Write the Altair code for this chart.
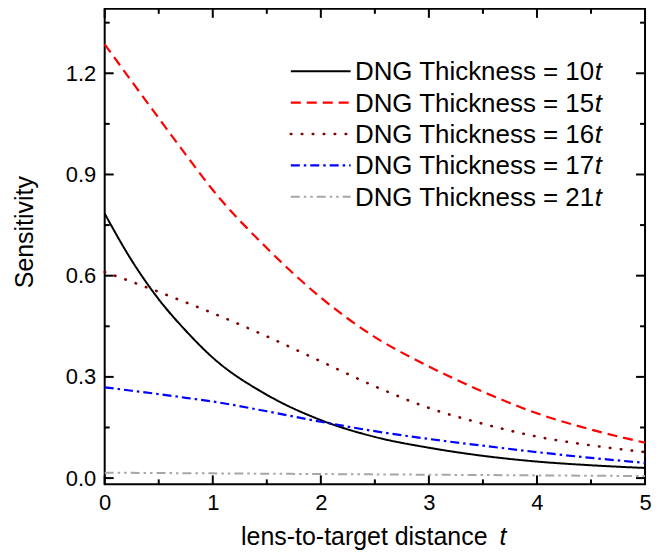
import altair as alt
import pandas as pd

# ---------------- data ----------------
x_vals = [0, 0.25, 0.5, 0.75, 1, 1.5, 2, 2.5, 3, 3.5, 4, 4.5, 5]
s10 = [0.784, 0.645, 0.530, 0.437, 0.357, 0.247, 0.172, 0.122, 0.090, 0.066, 0.049, 0.038, 0.030]
s15 = [1.286, 1.176, 1.067, 0.959, 0.854, 0.682, 0.535, 0.418, 0.331, 0.256, 0.192, 0.144, 0.105]
s16 = [0.611, 0.582, 0.552, 0.521, 0.489, 0.420, 0.346, 0.272, 0.208, 0.161, 0.123, 0.097, 0.077]
s17 = [0.269, 0.259, 0.249, 0.238, 0.227, 0.198, 0.167, 0.139, 0.116, 0.096, 0.077, 0.060, 0.045]
s21 = [0.016, 0.0155, 0.015, 0.0145, 0.014, 0.013, 0.012, 0.011, 0.010, 0.009, 0.008, 0.007, 0.006]

series_ids = ["10t", "15t", "16t", "17t", "21t"]
series_nums = ["10", "15", "16", "17", "21"]
series_vals = [s10, s15, s16, s17, s21]

x_major = [0, 1, 2, 3, 4, 5]
x_minor = [0.5, 1.5, 2.5, 3.5, 4.5]
y_major = [0.0, 0.3, 0.6, 0.9, 1.2]
y_minor = [0.15, 0.45, 0.75, 1.05, 1.35]

# ---------------- styles ----------------
colors = ["#000000", "#ff0000", "#800000", "#0000ff", "#a6a6a6"]
dashes = [[1, 0], [10, 6], [0.5, 10.5], [9, 4, 2.5, 4], [9, 4, 2.5, 4, 2.5, 4]]
caps = ["butt", "butt", "round", "butt", "butt"]
widths = [2, 2.2, 2.6, 2.2, 2]
FONT = "Liberation Sans"
X_DOMAIN = [0, 5]
Y_DOMAIN = [-0.0186, 1.391]
W, H = 542, 477
MAJ, MIN = 9, 5
TICK_COLOR = "#000000"

xs = alt.Scale(domain=X_DOMAIN, nice=False, zero=False)
ys = alt.Scale(domain=Y_DOMAIN, nice=False, zero=False)

ax_x = alt.Axis(values=x_major, format="d", ticks=False, domain=False, grid=False,
                title=None, labelPadding=8, labelFontSize=22, labelFont=FONT,
                labelColor="black", labelFlush=False)
ax_y = alt.Axis(values=y_major, format=".1f", ticks=False, domain=False, grid=False,
                title=None, labelPadding=9, labelFontSize=22, labelFont=FONT,
                labelColor="black", labelFlush=False)

rows = []
for sid, vals in zip(series_ids, series_vals):
    for xv, v in zip(x_vals, vals):
        rows.append({"x": xv, "v": v, "s": sid})
df = pd.DataFrame(rows)

layers = []

# ---------------- inward ticks on all four sides ----------------
ticks_x = pd.DataFrame({"x": x_major + x_minor,
                        "kind": ["major"] * len(x_major) + ["minor"] * len(x_minor)})
ticks_y = pd.DataFrame({"v": y_major + y_minor,
                        "kind": ["major"] * len(y_major) + ["minor"] * len(y_minor)})


def xticks(kind, y1, y2):
    return alt.Chart(ticks_x).transform_filter(alt.datum.kind == kind).mark_rule(
        color=TICK_COLOR, strokeWidth=2).encode(
        x=alt.X("x:Q", scale=xs, axis=ax_x), y=alt.value(y1), y2=alt.value(y2))


def yticks(kind, x1, x2):
    return alt.Chart(ticks_y).transform_filter(alt.datum.kind == kind).mark_rule(
        color=TICK_COLOR, strokeWidth=2).encode(
        y=alt.Y("v:Q", scale=ys, axis=ax_y), x=alt.value(x1), x2=alt.value(x2))


layers += [
    xticks("major", H, H - MAJ), xticks("minor", H, H - MIN),
    xticks("major", 0, MAJ), xticks("minor", 0, MIN),
    yticks("major", 0, MAJ), yticks("minor", 0, MIN),
    yticks("major", W, W - MAJ), yticks("minor", W, W - MIN),
]

for i, sid in enumerate(series_ids):
    layers.append(alt.Chart(df).transform_filter(alt.datum.s == sid).mark_line(
        color=colors[i], strokeDash=dashes[i], strokeCap=caps[i], strokeWidth=widths[i],
        interpolate="monotone").encode(
        x=alt.X("x:Q", scale=xs, axis=ax_x),
        y=alt.Y("v:Q", scale=ys, axis=ax_y),
    ))

one = alt.Data(values=[{"a": 1}])

# ---------------- legend (drawn by hand for the italic t) ----------------
LEG_X1, LEG_X2 = 186.7, 246.7
LEG_TXT_X = 491
LEG_Y0, LEG_DY = 62.5, 31.5
for i, num in enumerate(series_nums):
    yy = LEG_Y0 + i * LEG_DY
    layers.append(alt.Chart(one).mark_rule(
        color=colors[i], strokeDash=dashes[i], strokeCap=caps[i], strokeWidth=widths[i]).encode(
        x=alt.value(LEG_X1), x2=alt.value(LEG_X2), y=alt.value(yy)))
    layers.append(alt.Chart(one).mark_text(
        text=f"DNG Thickness = {num}", align="right", baseline="middle",
        font=FONT, fontSize=26, color="black").encode(
        x=alt.value(LEG_TXT_X), y=alt.value(yy + 1)))
    layers.append(alt.Chart(one).mark_text(
        text="t", align="left", baseline="middle", fontStyle="italic",
        font=FONT, fontSize=26, color="black").encode(
        x=alt.value(LEG_TXT_X + 0.5), y=alt.value(yy + 1)))

# ---------------- axis titles ----------------
layers.append(alt.Chart(one).mark_text(
    text="lens-to-target distance", align="right", baseline="alphabetic",
    font=FONT, fontSize=25, color="black").encode(
    x=alt.value(384), y=alt.value(538)))
layers.append(alt.Chart(one).mark_text(
    text="t", align="left", baseline="alphabetic", fontStyle="italic",
    font=FONT, fontSize=25, color="black").encode(
    x=alt.value(396), y=alt.value(538)))
layers.append(alt.Chart(one).mark_text(
    text="Sensitivity", align="center", baseline="alphabetic", angle=270,
    font=FONT, fontSize=25, color="black").encode(
    x=alt.value(-72), y=alt.value(224)))

chart = alt.layer(*layers).properties(
    width=W, height=H,
    autosize=alt.AutoSizeParams(type="none"),
    padding={"left": 97, "top": 0, "right": 10, "bottom": 66},
).configure_view(stroke="black", strokeWidth=2)

chart.save("out.html", embed_options={"renderer": "svg", "actions": False})
